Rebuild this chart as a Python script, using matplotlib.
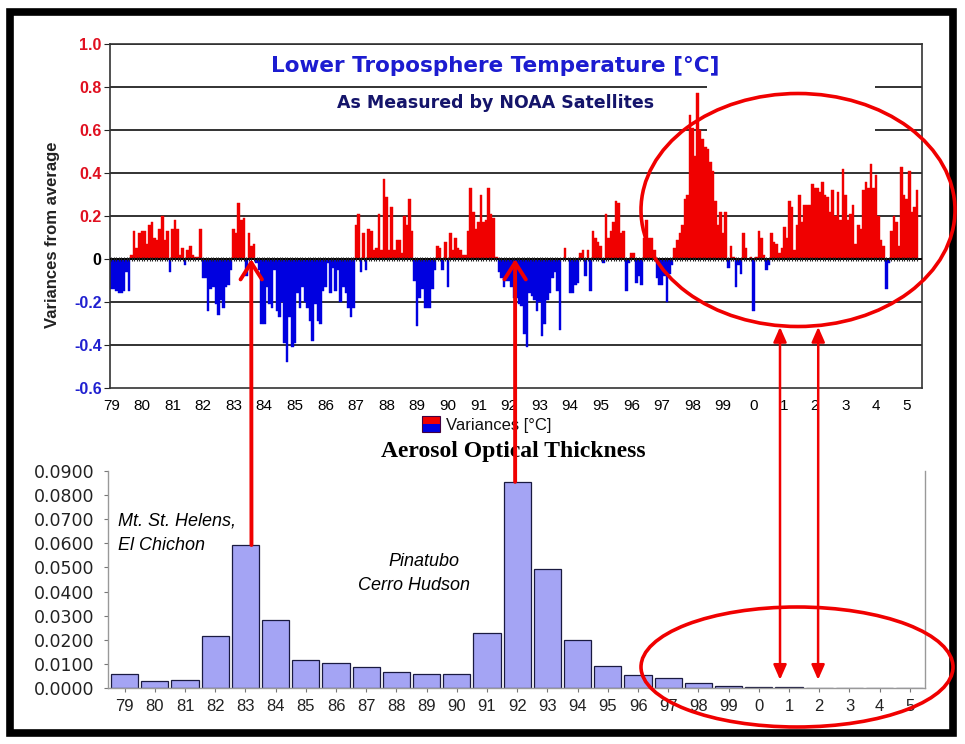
import numpy as np
import matplotlib.pyplot as plt
from matplotlib.patches import Rectangle, Ellipse, ConnectionPatch

plt.rcParams['font.family'] = ['Liberation Sans', 'DejaVu Sans']

# etiquetas de años (eje x de ambos gráficos)
year_labels = ['79', '80', '81', '82', '83', '84', '85', '86', '87', '88', '89', '90', '91',
               '92', '93', '94', '95', '96', '97', '98', '99', '0', '1', '2', '3', '4', '5']

# anomalías mensuales de temperatura, ene 1979 - may 2005
t1979 = [-0.14, -0.14, -0.15, -0.16, -0.16, -0.15, -0.06, -0.15, 0.02, 0.13, 0.05, 0.12]
t1980 = [0.13, 0.13, 0.07, 0.16, 0.17, 0.10, 0.09, 0.14, 0.20, 0.09, 0.13, -0.06]
t1981 = [0.14, 0.18, 0.14, 0.02, 0.05, -0.03, 0.04, 0.06, 0.02, 0.01, 0.01, 0.14]
t1982 = [-0.09, -0.09, -0.24, -0.14, -0.13, -0.21, -0.26, -0.19, -0.23, -0.13, -0.12, -0.05]
t1983 = [0.14, 0.12, 0.26, 0.18, 0.19, -0.08, 0.12, 0.06, 0.07, -0.02, -0.05, -0.30]
t1984 = [-0.30, -0.13, -0.21, -0.23, -0.05, -0.24, -0.27, -0.20, -0.39, -0.48, -0.27, -0.41]
t1985 = [-0.39, -0.16, -0.23, -0.13, -0.20, -0.23, -0.29, -0.38, -0.21, -0.29, -0.30, -0.15]
t1986 = [-0.13, -0.02, -0.16, -0.04, -0.15, -0.05, -0.20, -0.13, -0.16, -0.23, -0.27, -0.23]
t1987 = [0.16, 0.21, -0.06, 0.12, -0.05, 0.14, 0.13, 0.04, 0.05, 0.21, 0.04, 0.37]
t1988 = [0.29, 0.04, 0.24, 0.04, 0.09, 0.09, 0.03, 0.20, 0.16, 0.28, 0.13, -0.10]
t1989 = [-0.31, -0.18, -0.14, -0.23, -0.23, -0.23, -0.14, -0.05, 0.06, 0.05, -0.05, 0.08]
t1990 = [-0.13, 0.12, 0.04, 0.10, 0.05, 0.04, 0.02, 0.02, 0.13, 0.33, 0.22, 0.14]
t1991 = [0.17, 0.30, 0.17, 0.18, 0.33, 0.21, 0.19, 0.01, -0.06, -0.09, -0.13, -0.10]
t1992 = [-0.10, -0.13, -0.18, -0.18, -0.21, -0.22, -0.35, -0.41, -0.16, -0.17, -0.19, -0.24]
t1993 = [-0.20, -0.36, -0.30, -0.19, -0.16, -0.09, -0.06, -0.15, -0.33, 0.00, 0.05, 0.00]
t1994 = [-0.16, -0.16, -0.12, -0.11, 0.03, 0.04, -0.08, 0.04, -0.15, 0.13, 0.10, 0.08]
t1995 = [0.06, -0.02, 0.21, 0.10, 0.13, 0.17, 0.27, 0.26, 0.12, 0.13, -0.15, -0.02]
t1996 = [0.03, 0.03, -0.11, -0.08, -0.12, 0.10, 0.18, 0.10, 0.10, 0.04, -0.09, -0.12]
t1997 = [-0.12, -0.08, -0.20, -0.07, -0.03, 0.05, 0.09, 0.12, 0.16, 0.28, 0.30, 0.67]
t1998 = [0.61, 0.48, 0.77, 0.60, 0.56, 0.52, 0.51, 0.45, 0.41, 0.27, 0.16, 0.22]
t1999 = [0.12, 0.22, -0.04, 0.06, 0.01, -0.13, -0.03, -0.07, 0.12, 0.05, 0.00, 0.01]
t2000 = [-0.24, 0.01, 0.13, 0.10, 0.02, -0.05, -0.03, 0.12, 0.08, 0.07, 0.03, 0.05]
t2001 = [0.15, 0.10, 0.27, 0.24, 0.04, 0.16, 0.30, 0.17, 0.25, 0.25, 0.25, 0.35]
t2002 = [0.33, 0.33, 0.31, 0.36, 0.30, 0.29, 0.22, 0.32, 0.20, 0.31, 0.18, 0.42]
t2003 = [0.30, 0.18, 0.21, 0.25, 0.07, 0.16, 0.14, 0.32, 0.36, 0.33, 0.44, 0.33]
t2004 = [0.39, 0.20, 0.09, 0.06, -0.14, -0.02, 0.13, 0.20, 0.17, 0.06, 0.43, 0.30]
t2005 = [0.28, 0.41, 0.22, 0.24, 0.32]

temp_anom = np.array(t1979 + t1980 + t1981 + t1982 + t1983 + t1984 + t1985 + t1986 +
                     t1987 + t1988 + t1989 + t1990 + t1991 + t1992 + t1993 + t1994 +
                     t1995 + t1996 + t1997 + t1998 + t1999 + t2000 + t2001 + t2002 +
                     t2003 + t2004 + t2005)

# espesor óptico de aerosoles (anual)
aot = [0.0058, 0.0029, 0.0033, 0.0216, 0.0593, 0.0282, 0.0116, 0.0104, 0.0087, 0.0066,
       0.0058, 0.0058, 0.0228, 0.0855, 0.0494, 0.0199, 0.0091, 0.0054, 0.0041, 0.0021,
       0.0008, 0.0004, 0.0003, 0.0001, 0.0000, 0.0000, 0.0000]

W, H = 965, 744
def box(x0, y0, x1, y1):
    return [x0 / W, 1 - y1 / H, (x1 - x0) / W, (y1 - y0) / H]
def fp(x, y):
    return (x / W, 1 - y / H)

fig = plt.figure(figsize=(9.65, 7.44), dpi=100)
fig.patch.set_facecolor('white')

# ---------------- grafico superior: temperatura ----------------
ax1 = fig.add_axes(box(110, 44, 922, 388))
months = np.arange(len(temp_anom))
colores = np.where(temp_anom >= 0, '#f00000', '#0000e0')
ax1.bar(months, temp_anom, width=1.0, color=colores, linewidth=0.3, edgecolor=colores, zorder=2)
ax1.set_xlim(-0.5, 318)
ax1.set_ylim(-0.6, 1.0)

yt = np.round(np.arange(-0.6, 1.01, 0.2), 1)
for y in yt[1:]:
    ax1.axhline(y, color='#222222', lw=1.3, zorder=1)
ax1.axhline(0, color='black', lw=1.4, zorder=3)
ax1.plot(months, np.zeros(len(months)), ls='none', marker='|', ms=3.5, mew=0.8,
         color='#222222', zorder=3)

ax1.set_yticks(yt)
ylabs = ['0' if abs(v) < 1e-9 else f'{v:.1f}' for v in yt]
ax1.set_yticklabels(ylabs, fontsize=11.5, fontweight='bold')
for lab, v in zip(ax1.get_yticklabels(), yt):
    lab.set_color('#e01020' if v > 0.01 else ('#2020d0' if v < -0.01 else 'black'))
ax1.tick_params(axis='y', length=4, pad=2, color='#222222')
ax1.set_xticks(np.arange(0, 318, 12))
ax1.set_xticklabels(year_labels, fontsize=11)
ax1.tick_params(axis='x', length=0, pad=8)
for s in ax1.spines.values():
    s.set_color('#333333')
    s.set_linewidth(1.2)
ax1.set_ylabel('Variances from average', fontsize=12, fontweight='bold', color='#222222')
ax1.yaxis.set_label_coords(-0.062, 0.445)

# tapa blanca sobre las rejillas (como en la imagen original)
fig.patches.append(Rectangle(fp(707, 134), 168 / W, 50 / H, transform=fig.transFigure,
                             facecolor='white', edgecolor='none', zorder=5))

fig.text(*fp(495, 66), 'Lower Troposphere Temperature [°C]', fontsize=15.5, fontweight='bold',
         color='#1c1cd0', family='DejaVu Sans', ha='center', va='center', zorder=6)
fig.text(*fp(496, 103), 'As Measured by NOAA Satellites', fontsize=12.5, fontweight='bold',
         color='#14146a', family='DejaVu Sans', ha='center', va='center', zorder=6)

# leyenda
fig.patches.append(Rectangle(fp(422, 424), 18 / W, 8 / H, transform=fig.transFigure,
                             facecolor='#f00000', edgecolor='none'))
fig.patches.append(Rectangle(fp(422, 432), 18 / W, 8 / H, transform=fig.transFigure,
                             facecolor='#0000e0', edgecolor='none'))
fig.patches.append(Rectangle(fp(422, 432), 18 / W, 16 / H, transform=fig.transFigure,
                             facecolor='none', edgecolor='#400040', lw=0.8))
fig.text(*fp(446, 425), 'Variances [°C]', fontsize=12, va='center', ha='left', color='#111111')

# ---------------- grafico inferior: aerosoles ----------------
ax2 = fig.add_axes(box(108, 471, 925, 688))
idx = np.arange(len(aot))
ax2.bar(idx, aot, width=0.9, color='#a4a4f4', edgecolor='#1a1a40', linewidth=0.9, zorder=2)
ax2.set_xlim(-0.55, 26.5)
ax2.set_ylim(0, 0.09)
ax2.set_yticks(np.arange(0, 0.0901, 0.01))
ax2.set_yticklabels([f'{v:.4f}' for v in np.arange(0, 0.0901, 0.01)], fontsize=12.5,
                    color='#222222', family='DejaVu Sans')
ax2.set_xticks(idx)
ax2.set_xticklabels(year_labels, fontsize=12, color='#222222')
ax2.tick_params(axis='x', length=3, pad=5, color='#777777')
ax2.tick_params(axis='y', length=3, pad=7, color='#777777')
for s in ax2.spines.values():
    s.set_color('#999999')
    s.set_linewidth(1.0)
ax2.spines['top'].set_visible(False)

fig.text(*fp(513, 451), 'Aerosol Optical Thickness', fontsize=17, fontweight='bold',
         family='Liberation Serif', ha='center', va='center')
fig.text(*fp(118, 521), 'Mt. St. Helens,', fontsize=13, style='italic', ha='left', va='center')
fig.text(*fp(118, 546), 'El Chichon', fontsize=13, style='italic', ha='left', va='center')
fig.text(*fp(388, 562), 'Pinatubo', fontsize=13, style='italic', ha='left', va='center')
fig.text(*fp(358, 586), 'Cerro Hudson', fontsize=13, style='italic', ha='left', va='center')

# ---------------- flechas y elipses rojas ----------------
for xa, ya, xb in [(4.2, aot[4], 54.9), (12.93, aot[13], 158.4)]:
    con = ConnectionPatch(xyA=(xa, ya), coordsA=ax2.transData, xyB=(xb, 0), coordsB=ax1.transData,
                          arrowstyle='->,head_length=0.55,head_width=0.35', mutation_scale=22,
                          color='#f00000', lw=2.8, zorder=10)
    fig.add_artist(con)

for xm, xi in [(262.3, 21.7), (277.3, 22.96)]:
    con = ConnectionPatch(xyA=(xm, -0.316), coordsA=ax1.transData, xyB=(xi, 0.0034),
                          coordsB=ax2.transData,
                          arrowstyle='<|-|>,head_length=0.5,head_width=0.22', mutation_scale=18,
                          color='#f00000', lw=1.8, zorder=10)
    fig.add_artist(con)

fig.patches.append(Ellipse(fp(798, 210), 314 / W, 233 / H, transform=fig.transFigure,
                           fill=False, edgecolor='#f00000', lw=2.6, zorder=11))
fig.patches.append(Ellipse(fp(797, 667), 312 / W, 120 / H, transform=fig.transFigure,
                           fill=False, edgecolor='#f00000', lw=2.6, zorder=11))

# marco negro exterior
fig.patches.append(Rectangle(fp(10, 733), 943 / W, 721 / H, transform=fig.transFigure,
                             fill=False, edgecolor='black', lw=5.5, zorder=9))

fig.savefig('out.png', dpi=100)
